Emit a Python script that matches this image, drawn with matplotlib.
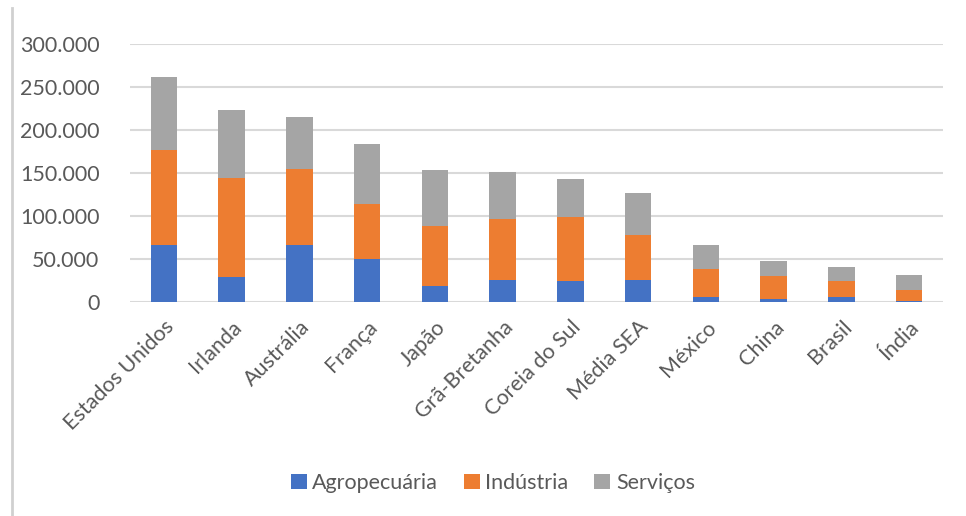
import matplotlib.pyplot as plt
from matplotlib.lines import Line2D
from matplotlib.ticker import FuncFormatter
import numpy as np

paises = ["Estados Unidos", "Irlanda", "Austrália", "França", "Japão", "Grã-Bretanha",
          "Coreia do Sul", "Média SEA", "México", "China", "Brasil", "Índia"]
agro = [65700, 28400, 65700, 49400, 18300, 25600, 24100, 25600, 5800, 3500, 5100, 1200]
industria = [110700, 115400, 88600, 64800, 70300, 70400, 74600, 52500, 31900, 26800, 19000, 12800]
servicos = [85900, 80000, 60600, 69200, 65300, 54800, 44700, 49000, 28000, 17500, 16300, 17500]

cor_agro = "#4472c4"
cor_ind = "#ed7d31"
cor_serv = "#a5a5a5"
cinza_txt = "#595959"

plt.rcParams['font.family'] = ['Lato', 'DejaVu Sans']

fig = plt.figure(figsize=(9.66, 5.16), dpi=100)
ax = fig.add_axes([0.1346, 0.4153, 0.8416, 0.4988])

x = np.arange(len(paises))
largura = 0.39
a = np.array(agro)
i = np.array(industria)
s = np.array(servicos)
ax.bar(x, a, largura, color=cor_agro, label="Agropecuária", zorder=3)
ax.bar(x, i, largura, bottom=a, color=cor_ind, label="Indústria", zorder=3)
ax.bar(x, s, largura, bottom=a + i, color=cor_serv, label="Serviços", zorder=3)

ax.set_ylim(0, 300000)
ax.set_xlim(-0.5, len(paises) - 0.5)
ax.set_yticks(np.arange(0, 300001, 50000))
ax.yaxis.set_major_formatter(FuncFormatter(lambda v, p: f"{int(v):,}".replace(",", ".")))
ax.grid(axis='y', color='#d9d9d9', linewidth=1.5, zorder=0)
for sp in ax.spines.values():
    sp.set_visible(False)
ax.tick_params(axis='both', length=0, colors=cinza_txt, labelsize=15.5)
ax.tick_params(axis='y', pad=22)
ax.set_xticks(x)
ax.set_xticklabels(paises, rotation=45, ha='right', rotation_mode='anchor')
ax.tick_params(axis='x', pad=11)

ax.legend(loc='center', bbox_to_anchor=(0.51, 1 - 483 / 516), bbox_transform=fig.transFigure,
          ncol=3, frameon=False, fontsize=15.5, labelcolor=cinza_txt,
          handlelength=0.75, handleheight=0.75, handletextpad=0.25, columnspacing=1.2)

fig.add_artist(Line2D([12 / 966, 12 / 966], [0, 1 - 8 / 516], color='#d0d0d0', linewidth=2))

fig.savefig("out.png", dpi=100)
